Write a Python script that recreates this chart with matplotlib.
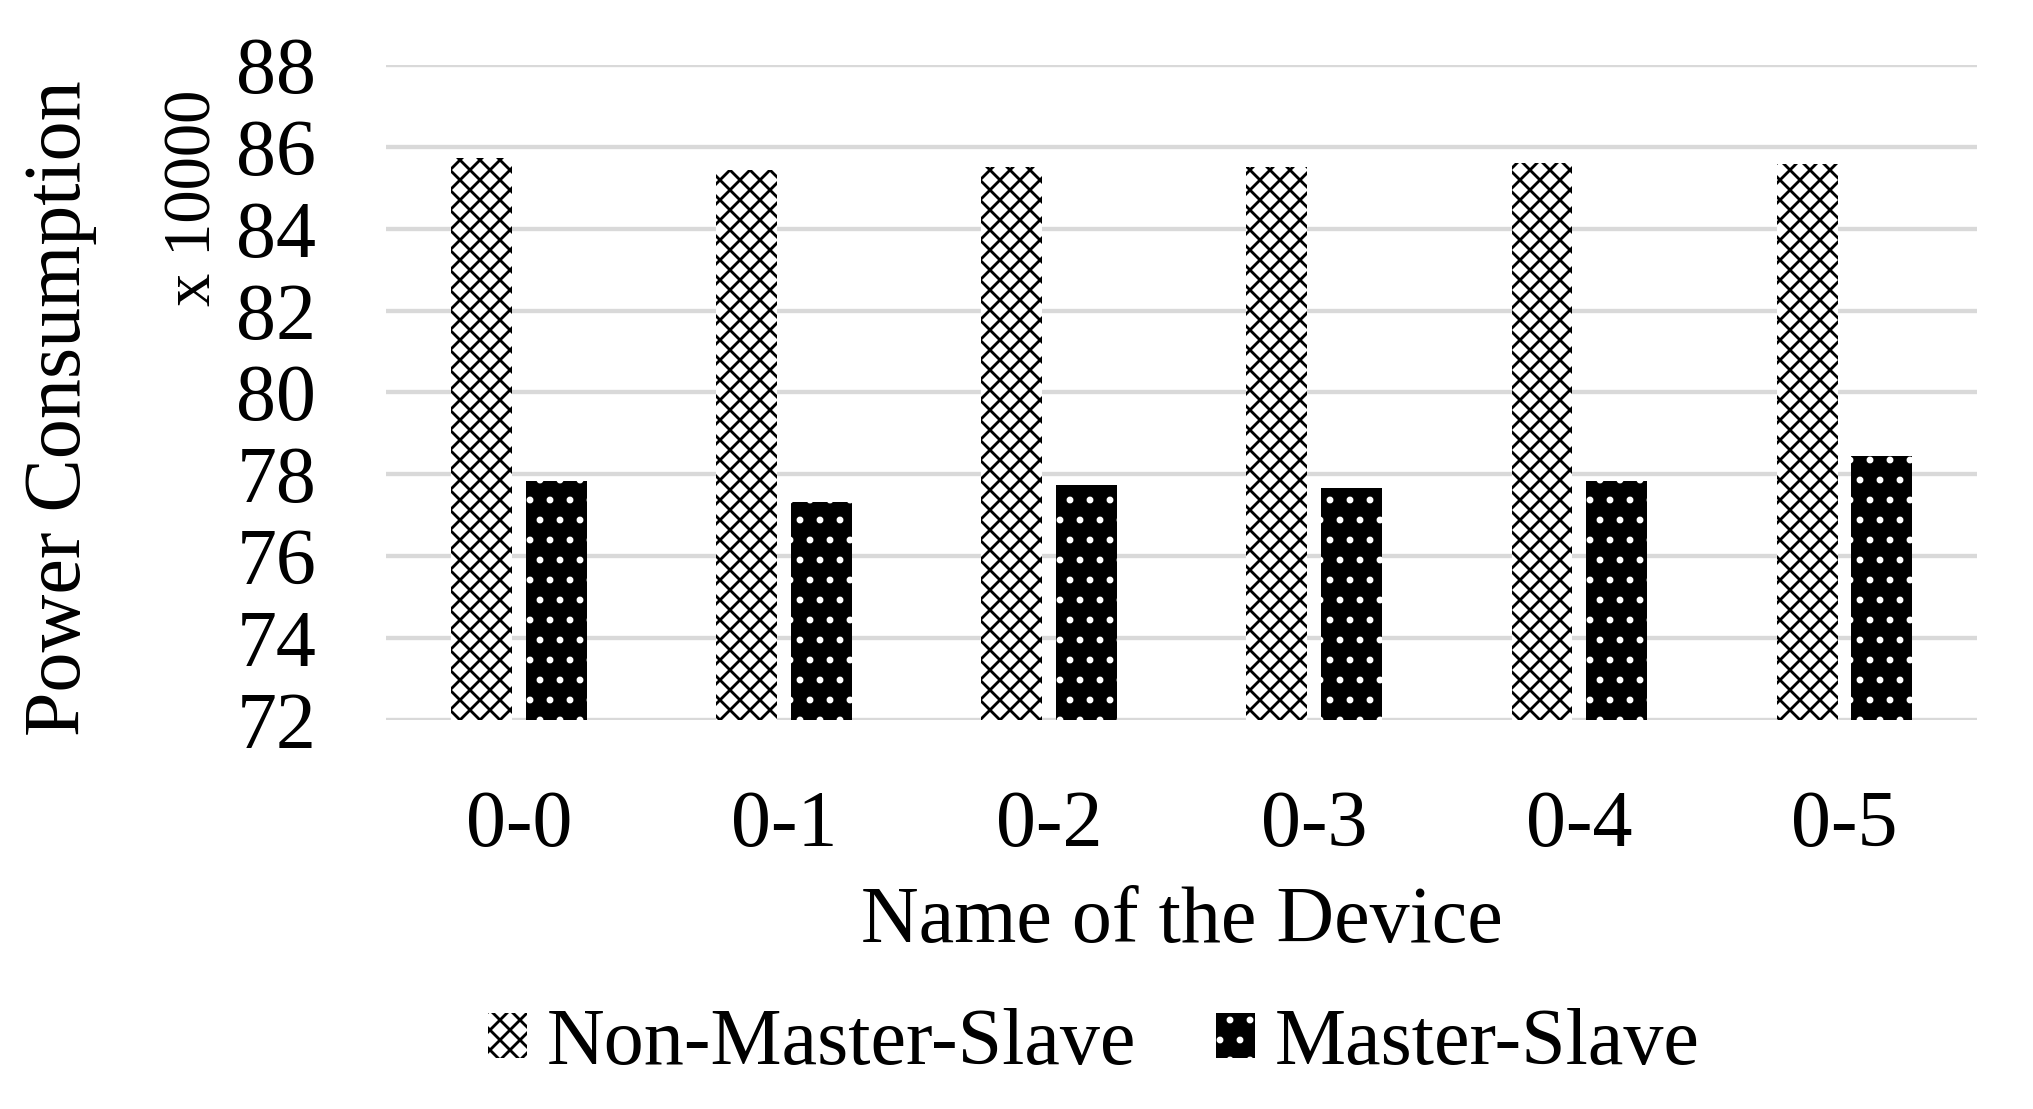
import numpy as np
import matplotlib
matplotlib.use("Agg")
import matplotlib.pyplot as plt

# data (x 10000)
devices = ["0-0", "0-1", "0-2", "0-3", "0-4", "0-5"]
non_master_slave = [85.72, 85.44, 85.50, 85.50, 85.60, 85.59]
master_slave = [77.83, 77.32, 77.74, 77.67, 77.83, 78.45]
yticks = [72, 74, 76, 78, 80, 82, 84, 86, 88]

plt.rcParams['font.family'] = ['Liberation Serif', 'DejaVu Serif']
plt.rcParams['hatch.linewidth'] = 1.7

fig = plt.figure(figsize=(2033 / 120, 1109 / 120), dpi=120)
ax = fig.add_axes([0.19, 0.3508, 0.7825, 0.5906])

x = np.arange(len(devices))
w = 0.23
ax.bar(x - 0.141, non_master_slave, w, color='white', edgecolor='black',
       linewidth=0, hatch='xx', label='Non-Master-Slave', zorder=2)
ax.bar(x + 0.141, master_slave, w, color='black', edgecolor='white',
       linewidth=0, hatch='.', label='Master-Slave', zorder=2)

ax.set_ylim(72, 88)
ax.set_xlim(-0.5, len(devices) - 0.5)
ax.set_yticks(yticks)
ax.set_xticks(x)
ax.set_xticklabels(devices)
ax.tick_params(axis='both', length=0, labelsize=48)
ax.tick_params(axis='y', pad=42)
ax.tick_params(axis='x', pad=42)
ax.grid(axis='y', color='#d9d9d9', linewidth=2.6, zorder=0)
ax.set_axisbelow(True)
for s in ax.spines.values():
    s.set_visible(False)

ax.set_xlabel("Name of the Device", fontsize=48, labelpad=14)
fig.text(0.030, 0.632, "Power Consumption", rotation=90, fontsize=48,
         ha='center', va='center')
fig.text(0.0955, 0.822, "x 10000", rotation=90, fontsize=40,
         ha='center', va='center')

fig.legend(loc='center', bbox_to_anchor=(0.538, 0.058), ncol=2, frameon=False,
           fontsize=48, handlelength=0.49, handleheight=0.49,
           handletextpad=0.24, columnspacing=1.0)

fig.savefig("out.png", dpi=120)
